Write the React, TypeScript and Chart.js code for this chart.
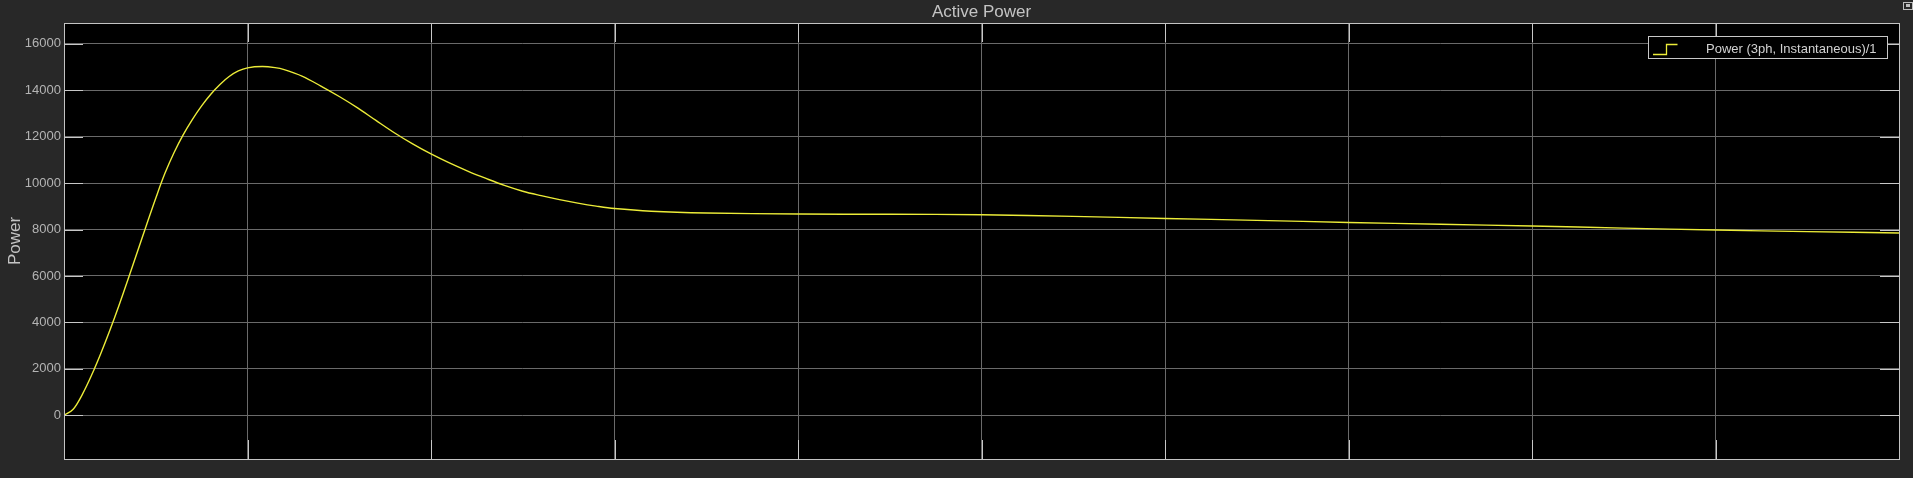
import React, { useEffect, useRef } from 'react';
import { Chart, registerables } from 'chart.js';

Chart.register(...registerables);

// ---- data ----
const timeValues = [
  0, 0.05, 0.1, 0.15, 0.2, 0.25, 0.3, 0.35, 0.4, 0.45, 0.5, 0.55, 0.6, 0.65, 0.7, 0.75, 0.8, 0.85, 0.9, 0.95,
  1.0, 1.08, 1.15, 1.2, 1.3, 1.4, 1.5, 1.6, 1.7, 1.8, 1.9, 2.0, 2.1, 2.2, 2.3, 2.4, 2.5, 2.6, 2.7, 2.8, 2.9,
  3.0, 3.2, 3.5, 4.0, 4.5, 5.0, 5.5, 6.0, 6.5, 7.0, 7.5, 8.0, 8.5, 9.0, 9.5, 10.0,
];
const powerValues = [
  0, 260, 900, 1720, 2650, 3660, 4740, 5880, 7040, 8210, 9350, 10420, 11320, 12090, 12750, 13330, 13830, 14250, 14590, 14830,
  14965, 15020, 14975, 14890, 14600, 14180, 13730, 13240, 12700, 12170, 11690, 11256, 10870, 10520, 10200, 9900, 9650, 9460, 9290, 9140, 9010,
  8905, 8790, 8715, 8668, 8658, 8636, 8565, 8478, 8395, 8306, 8228, 8150, 8062, 7978, 7912, 7849,
];
const yTickValues = [0, 2000, 4000, 6000, 8000, 10000, 12000, 14000, 16000];
const xTickValues = [0, 1, 2, 3, 4, 5, 6, 7, 8, 9, 10];
const yRange = [-1885, 16897];
const xRange = [0, 10];
const chartTitle = 'Active Power';
const yAxisLabel = 'Power';
const legendLabel = 'Power (3ph, Instantaneous)/1';

const FONT = '"Liberation Sans", Arial, Helvetica, sans-serif';
const LINE_COLOR = '#ecec38';

export default function App() {
  const canvasRef = useRef<HTMLCanvasElement | null>(null);

  useEffect(() => {
    const canvas = canvasRef.current;
    if (!canvas) return;

    const decor = {
      id: 'scopeDecor',
      beforeDraw(chart: any) {
        const { ctx, chartArea: a, width, height } = chart;
        ctx.save();
        ctx.fillStyle = '#282828';
        ctx.fillRect(0, 0, width, height);
        ctx.fillStyle = '#000000';
        ctx.fillRect(a.left, a.top, a.right - a.left, a.bottom - a.top);
        ctx.restore();
      },
      afterDraw(chart: any) {
        const { ctx, chartArea: a } = chart;
        const ys = chart.scales.y;
        const xs = chart.scales.x;
        const tl = 19;
        ctx.save();
        // inward tick marks
        ctx.strokeStyle = '#c8c8c8';
        ctx.lineWidth = 1;
        ctx.beginPath();
        yTickValues.forEach((v) => {
          const py = Math.round(ys.getPixelForValue(v)) + 0.5;
          ctx.moveTo(a.left, py);
          ctx.lineTo(a.left + tl, py);
          ctx.moveTo(a.right - tl, py);
          ctx.lineTo(a.right, py);
        });
        xTickValues.forEach((v) => {
          const px = Math.round(xs.getPixelForValue(v)) + 0.5;
          ctx.moveTo(px, a.bottom);
          ctx.lineTo(px, a.bottom - tl);
          ctx.moveTo(px, a.top);
          ctx.lineTo(px, a.top + tl);
        });
        ctx.stroke();
        // axes box
        ctx.strokeStyle = '#c4c4c4';
        ctx.strokeRect(a.left + 0.5, a.top + 0.5, a.right - a.left, a.bottom - a.top);

        // title
        ctx.fillStyle = '#c4c4c4';
        ctx.font = `17px ${FONT}`;
        ctx.textAlign = 'center';
        ctx.textBaseline = 'alphabetic';
        ctx.fillText(chartTitle, (a.left + a.right) / 2, 17);

        // y axis label
        ctx.save();
        ctx.translate(20, (a.top + a.bottom) / 2);
        ctx.rotate(-Math.PI / 2);
        ctx.fillStyle = '#c4c4c4';
        ctx.font = `17px ${FONT}`;
        ctx.textAlign = 'center';
        ctx.textBaseline = 'alphabetic';
        ctx.fillText(yAxisLabel, 0, 0);
        ctx.restore();

        // legend
        const lx = 1648, ly = 36, lw = 239, lh = 22;
        ctx.fillStyle = '#000000';
        ctx.fillRect(lx, ly, lw, lh);
        ctx.strokeStyle = '#c8c8c8';
        ctx.strokeRect(lx + 0.5, ly + 0.5, lw, lh);
        ctx.strokeStyle = LINE_COLOR;
        ctx.lineWidth = 1.3;
        ctx.beginPath();
        ctx.moveTo(1653, 54.5);
        ctx.lineTo(1666.5, 54.5);
        ctx.lineTo(1666.5, 44.5);
        ctx.lineTo(1677.5, 44.5);
        ctx.stroke();
        ctx.fillStyle = '#d2d2d2';
        ctx.font = `13px ${FONT}`;
        ctx.textAlign = 'left';
        ctx.textBaseline = 'alphabetic';
        ctx.fillText(legendLabel, 1706, 53);

        // small corner icon
        ctx.lineWidth = 1;
        ctx.strokeStyle = '#bdbdbd';
        ctx.strokeRect(1903.5, 2.5, 9, 7);
        ctx.fillStyle = '#bdbdbd';
        ctx.fillRect(1906, 4, 4, 3);
        ctx.restore();
      },
    };

    const chart = new Chart(canvas, {
      type: 'line',
      data: {
        datasets: [
          {
            label: legendLabel,
            data: timeValues.map((t, i) => ({ x: t, y: powerValues[i] })),
            borderColor: LINE_COLOR,
            borderWidth: 1.4,
            pointRadius: 0,
            fill: false,
            tension: 0.35,
          },
        ],
      },
      options: {
        animation: false,
        responsive: false,
        devicePixelRatio: 1,
        events: [],
        layout: { padding: { top: 23, right: 14, bottom: 19, left: 0 } },
        plugins: {
          legend: { display: false },
          title: { display: false },
          tooltip: { enabled: false },
        },
        scales: {
          x: {
            type: 'linear',
            min: xRange[0],
            max: xRange[1],
            afterBuildTicks: (axis: any) => {
              axis.ticks = xTickValues.map((v) => ({ value: v }));
            },
            afterFit: (axis: any) => {
              axis.height = 0;
            },
            ticks: { display: false },
            grid: { color: '#6a6a6a', lineWidth: 1, drawTicks: false },
            border: { display: false },
          },
          y: {
            type: 'linear',
            min: yRange[0],
            max: yRange[1],
            afterBuildTicks: (axis: any) => {
              axis.ticks = yTickValues.map((v) => ({ value: v }));
            },
            afterFit: (axis: any) => {
              axis.width = 64;
            },
            ticks: {
              color: '#b4b4b4',
              font: { family: FONT, size: 13 },
              padding: 3,
              callback: (v: any) => String(v),
            },
            grid: { color: '#6a6a6a', lineWidth: 1, drawTicks: false },
            border: { display: false },
          },
        },
      },
      plugins: [decor],
    });

    return () => {
      chart.destroy();
    };
  }, []);

  return (
    <div
      style={{
        position: 'fixed',
        left: 0,
        top: 0,
        width: 1913,
        height: 478,
        background: '#282828',
        overflow: 'hidden',
      }}
    >
      <canvas ref={canvasRef} width={1913} height={478} style={{ display: 'block' }} />
    </div>
  );
}
